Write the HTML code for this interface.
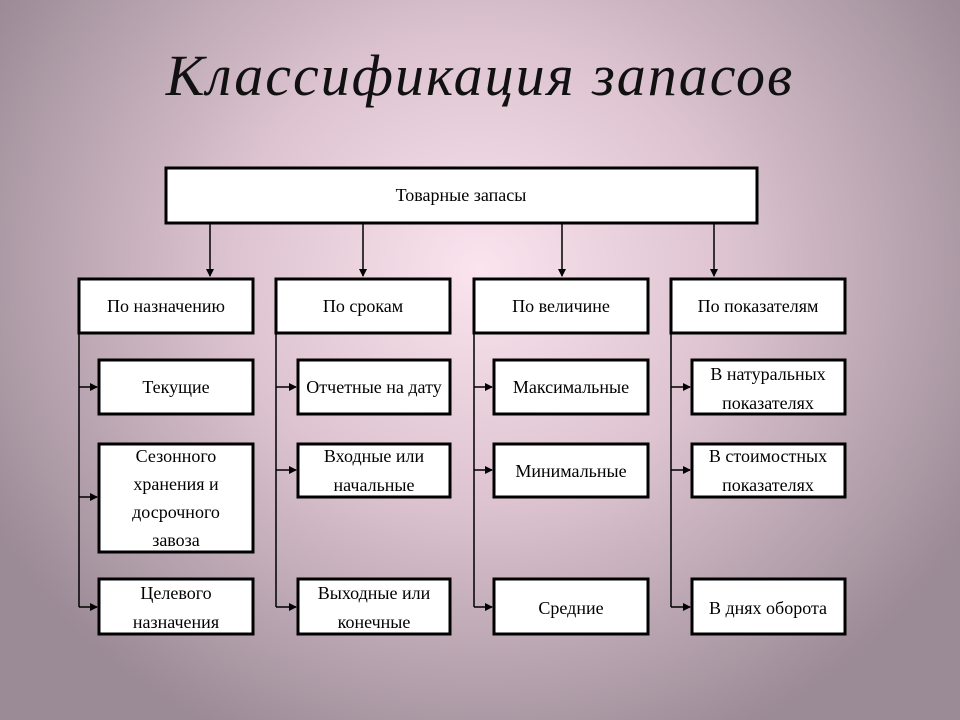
<!DOCTYPE html>
<html><head><meta charset="utf-8"><style>
html,body{margin:0;padding:0;}
body{width:960px;height:720px;overflow:hidden;background:radial-gradient(ellipse 560px 520px at 480px 270px,#fbe4ee 0%,#dcc3cf 45%,#b9a5b1 75%,#9b8b96 100%);}
svg{position:absolute;left:0;top:0;}
text{font-family:"Liberation Serif",serif;}
</style></head><body>
<svg width="960" height="720" viewBox="0 0 960 720">
<defs><marker id="a" markerWidth="8" markerHeight="8" refX="7" refY="4" orient="auto" markerUnits="userSpaceOnUse"><path d="M0,0 L8,4 L0,8 z" fill="#000"/></marker></defs>
<text x="480" y="95" font-size="58" font-style="italic" text-anchor="middle" fill="#111" letter-spacing="2">Классификация  запасов</text>
<g stroke="#000" stroke-width="1.5" fill="none">
<line x1="210" y1="224" x2="210" y2="276" marker-end="url(#a)"/>
<line x1="363" y1="224" x2="363" y2="276" marker-end="url(#a)"/>
<line x1="562" y1="224" x2="562" y2="276" marker-end="url(#a)"/>
<line x1="714" y1="224" x2="714" y2="276" marker-end="url(#a)"/>
<line x1="79" y1="333" x2="79" y2="607"/>
<line x1="276" y1="333" x2="276" y2="607"/>
<line x1="474" y1="333" x2="474" y2="607"/>
<line x1="671" y1="333" x2="671" y2="607"/>
<g>
<line x1="79" y1="387" x2="97" y2="387" marker-end="url(#a)"/>
<line x1="79" y1="497" x2="97" y2="497" marker-end="url(#a)"/>
<line x1="79" y1="607" x2="97" y2="607" marker-end="url(#a)"/>
<line x1="276" y1="387" x2="296" y2="387" marker-end="url(#a)"/>
<line x1="276" y1="470" x2="296" y2="470" marker-end="url(#a)"/>
<line x1="276" y1="607" x2="296" y2="607" marker-end="url(#a)"/>
<line x1="474" y1="387" x2="492" y2="387" marker-end="url(#a)"/>
<line x1="474" y1="470" x2="492" y2="470" marker-end="url(#a)"/>
<line x1="474" y1="607" x2="492" y2="607" marker-end="url(#a)"/>
<line x1="671" y1="387" x2="690" y2="387" marker-end="url(#a)"/>
<line x1="671" y1="470" x2="690" y2="470" marker-end="url(#a)"/>
<line x1="671" y1="607" x2="690" y2="607" marker-end="url(#a)"/>
</g>
</g>
<g fill="#fff" stroke="#000" stroke-width="3">
<rect x="166" y="168" width="591" height="55"/>
<rect x="79" y="279" width="174" height="54"/>
<rect x="276" y="279" width="174" height="54"/>
<rect x="474" y="279" width="174" height="54"/>
<rect x="671" y="279" width="174" height="54"/>
<rect x="99" y="360" width="154" height="54"/>
<rect x="298" y="360" width="152" height="54"/>
<rect x="494" y="360" width="154" height="54"/>
<rect x="692" y="360" width="153" height="54"/>
<rect x="99" y="444" width="154" height="108"/>
<rect x="298" y="444" width="152" height="53"/>
<rect x="494" y="444" width="154" height="53"/>
<rect x="692" y="444" width="153" height="53"/>
<rect x="99" y="579" width="154" height="55"/>
<rect x="298" y="579" width="152" height="55"/>
<rect x="494" y="579" width="154" height="55"/>
<rect x="692" y="579" width="153" height="55"/>
</g>
<g font-size="18" text-anchor="middle" fill="#000">
<text x="461" y="201">Товарные запасы</text>
<text x="166" y="312">По назначению</text>
<text x="363" y="312">По срокам</text>
<text x="561" y="312">По величине</text>
<text x="758" y="312">По показателям</text>
<text x="176" y="393">Текущие</text>
<text x="374" y="393">Отчетные на дату</text>
<text x="571" y="393">Максимальные</text>
<text x="768" y="380">В натуральных</text>
<text x="768" y="409">показателях</text>
<text x="176" y="462">Сезонного</text>
<text x="176" y="490">хранения и</text>
<text x="176" y="518">досрочного</text>
<text x="176" y="546">завоза</text>
<text x="374" y="462">Входные или</text>
<text x="374" y="491">начальные</text>
<text x="571" y="477">Минимальные</text>
<text x="768" y="462">В стоимостных</text>
<text x="768" y="491">показателях</text>
<text x="176" y="599">Целевого</text>
<text x="176" y="628">назначения</text>
<text x="374" y="599">Выходные или</text>
<text x="374" y="628">конечные</text>
<text x="571" y="614">Средние</text>
<text x="768" y="614">В днях оборота</text>
</g>
</svg>
</body></html>
